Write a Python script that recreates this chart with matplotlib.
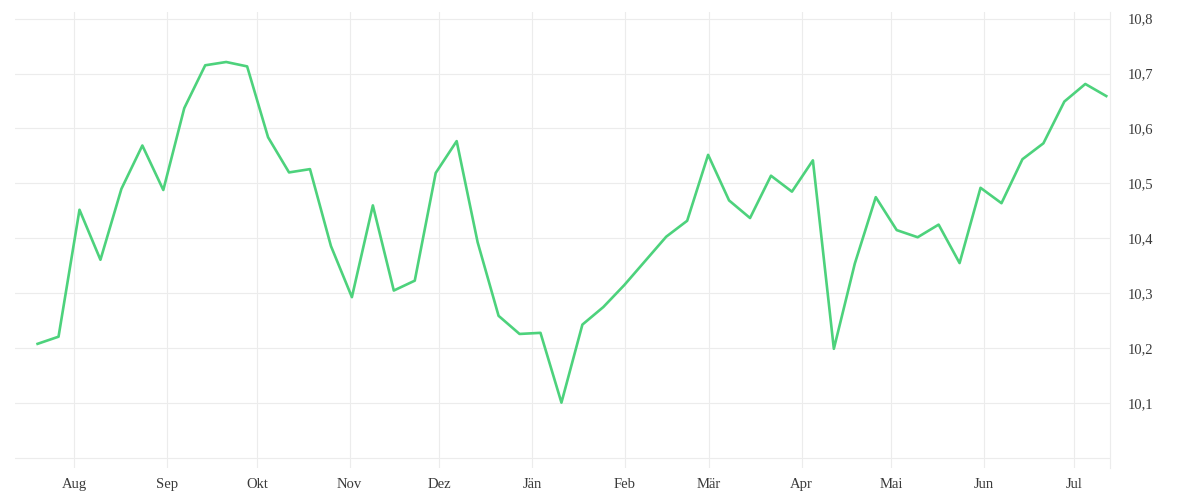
import numpy as np
import pandas as pd
import matplotlib
matplotlib.use("Agg")
import matplotlib.pyplot as plt
from matplotlib.ticker import FuncFormatter

# weekly values, Jul 2024 - Jul 2025
start_date = "2024-07-19 18:00"
values = [
    10.208, 10.221, 10.452, 10.361, 10.490, 10.569, 10.488, 10.637, 10.715, 10.721,
    10.713, 10.584, 10.520, 10.526, 10.386, 10.293, 10.460, 10.305, 10.323, 10.519,
    10.577, 10.393, 10.259, 10.226, 10.228, 10.101, 10.243, 10.275, 10.315, 10.359,
    10.403, 10.432, 10.552, 10.469, 10.437, 10.514, 10.485, 10.542, 10.199, 10.354,
    10.475, 10.415, 10.402, 10.425, 10.355, 10.492, 10.464, 10.544, 10.573, 10.649,
    10.681, 10.659,
]
dates = pd.date_range(start_date, periods=len(values), freq="7D")

month_ticks = pd.date_range("2024-08-01", "2025-07-01", freq="MS")
month_labels = ["Aug", "Sep", "Okt", "Nov", "Dez", "Jän", "Feb", "Mär",
                "Apr", "Mai", "Jun", "Jul"]
y_ticks = [10.0, 10.1, 10.2, 10.3, 10.4, 10.5, 10.6, 10.7, 10.8]

fig = plt.figure(figsize=(12, 5), dpi=100)
ax = fig.add_axes([0.0125, 0.064, 0.9125, 0.912])

ax.plot(dates, values, color="#4dd27c", linewidth=1.9)

ax.set_xlim(pd.Timestamp("2024-07-12 05:00"), pd.Timestamp("2025-07-13"))
ax.set_ylim(9.982, 10.812)

ax.set_xticks(month_ticks)
ax.set_xticklabels(month_labels)
ax.set_yticks(y_ticks)
ax.yaxis.set_major_formatter(FuncFormatter(
    lambda v, p: "" if v < 10.05 else f"{v:.1f}".replace(".", ",")))
ax.yaxis.tick_right()

ax.grid(True, color="#ececec", linewidth=0.8)
ax.set_axisbelow(True)
for side in ["left", "top", "bottom"]:
    ax.spines[side].set_visible(False)
ax.spines["right"].set_color("#ececec")
ax.spines["right"].set_linewidth(0.8)

ax.tick_params(axis="both", length=0, labelsize=10.5, colors="#3a3a3a")
ax.tick_params(axis="y", pad=13)
ax.tick_params(axis="x", pad=7)
for lbl in ax.get_xticklabels() + ax.get_yticklabels():
    lbl.set_fontfamily("Liberation Serif")

fig.savefig("out.png", dpi=100)
